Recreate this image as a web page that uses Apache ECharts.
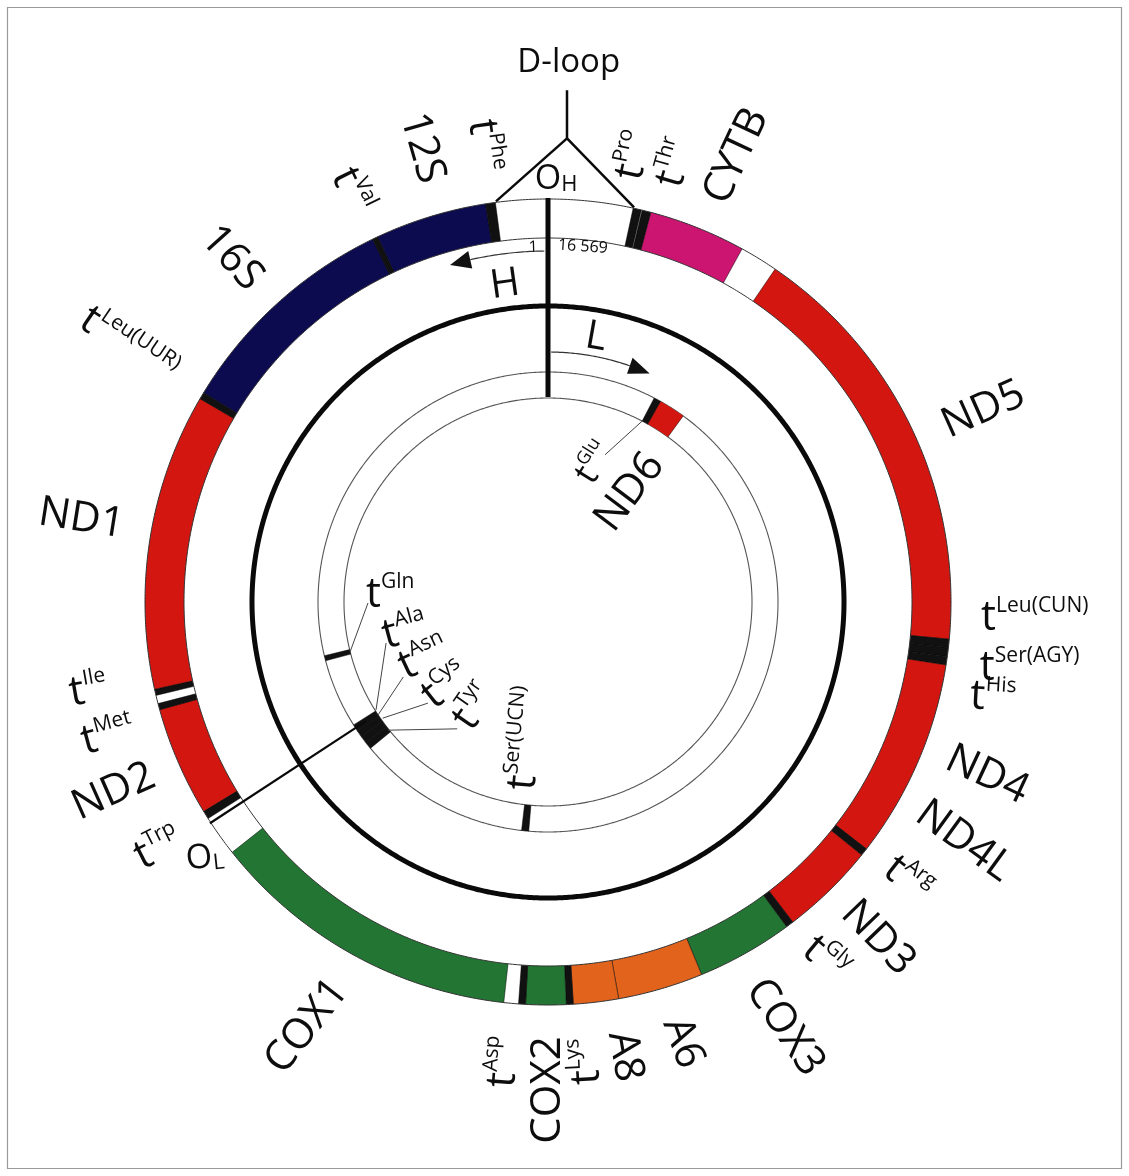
<!DOCTYPE html>
<html><head><meta charset="utf-8">
<script src="https://cdn.jsdelivr.net/npm/echarts@6/dist/echarts.min.js"></script>
<style>html,body{margin:0;padding:0;background:#fff}#c{width:1129px;height:1176px}</style>
</head><body><div id="c"></div>
<script>
// ---------- DATA (angles in degrees, clockwise from the origin line at top) ----------
// outer band genes: [name, startAngle, endAngle, kind]
const outerGenes = [
  ['tPro', 12.2, 13.4, 'trna'],
  ['tThr', 13.5, 14.8, 'trna'],
  ['CYTB', 14.8, 28.8, 'cytb'],
  ['ND5', 34.3, 95.3, 'nd'],
  ['tLeu(CUN)', 95.3, 96.5, 'trna'],
  ['tSer(AGY)', 96.5, 97.8, 'trna'],
  ['tHis', 97.8, 99.0, 'trna'],
  ['ND4', 99.0, 119.3, 'nd'],
  ['ND4L', 119.0, 127.8, 'nd'],
  ['tArg', 127.8, 128.9, 'trna'],
  ['ND3', 128.9, 142.6, 'nd'],
  ['tGly', 142.6, 143.7, 'trna'],
  ['COX3', 143.7, 157.6, 'cox'],
  ['A6', 157.6, 169.9, 'atp'],
  ['A8', 169.9, 176.4, 'atp'],
  ['tLys', 176.4, 177.4, 'trna'],
  ['COX2', 177.4, 183.2, 'cox'],
  ['tAsp', 183.2, 184.2, 'trna'],
  ['COX1', 186.3, 231.6, 'cox'],
  ['tTrp', 237.5, 238.7, 'trna'],
  ['ND2', 238.7, 254.5, 'nd'],
  ['tMet', 254.5, 255.4, 'trna'],
  ['tIle', 256.6, 257.5, 'trna'],
  ['ND1', 257.5, 300.3, 'nd'],
  ['tLeu(UUR)', 300.3, 301.3, 'trna'],
  ['16S', 301.3, 334.2, 'rrna'],
  ['tVal', 334.2, 335.0, 'trna'],
  ['12S', 335.0, 351.1, 'rrna'],
  ['tPhe', 351.1, 352.5, 'trna']
];
// inner band genes (other strand)
const innerGenes = [
  ['tGlu', 27.5, 29.3, 'trna'],
  ['ND6', 29.3, 36.0, 'nd'],
  ['tSer(UCN)', 184.8, 186.6, 'trna'],
  ['tTyr', 230.5, 232.3, 'trna'],
  ['tCys', 232.3, 234.1, 'trna'],
  ['tAsn', 234.1, 235.9, 'trna'],
  ['tAla', 235.9, 237.7, 'trna'],
  ['tGln', 255.2, 256.5, 'trna']
];
const genomeEnds = ['1', '16 569'];

// ---------- LAYOUT / STYLE ----------
const CENTER = [548, 602];
const R_MAX = 403;
const BAND_OUT = [364, 403];
const BAND_IN = [204, 230];
const STRAND_CIRCLE = 296;
const kindColor = { rrna: '#0c0b50', nd: '#d3160f', cytb: '#cc1471', cox: '#227532', atp: '#e2631c', trna: '#111111' };

// connector lines: points as [radius, angle], width
const connectors = [
  [[[464, 2.35], [512, 2.13]], 2.5],
  [[[404, 352.6], [464, 2.35]], 2.5],
  [[[464, 2.35], [404, 12.3]], 2.5],
  [[[205, 0], [404, 0]], 5],
  [[[218, 236.8], [404, 236.8]], 2.2],
  [[[204, 255.9], [180, 269.7]], 1],
  [[[203, 237.9], [167, 255.8]], 1],
  [[[204, 236.4], [163, 242.6]], 1],
  [[[202, 234.9], [157, 229.9]], 1],
  [[[205, 231.3], [156, 215.6]], 1],
  [[[205, 27.6], [158, 21.2]], 1]
];
// strand arrows: radius, fromAngle, baseAngle, tipAngle, half width
const arrows = [
  [351, 359.4, 347.2, 343.8, 9],
  [250, 0.7, 19.1, 24.0, 8.5]
];
// labels: main, sup/sub, radius, angle, rotation (deg, clockwise), style
const labelLayout = [
  ['D-loop', '', 540, 2.2, 0, 'title'],
  ['O', 'H', 425, 1.1, 0, 'origin'],
  ['t', 'Phe', 461, 352.2, 82, 'trna'],
  ['12S', '', 471, 344.5, 74, 'gene'],
  ['t', 'Val', 456, 334.6, 64, 'trna'],
  ['16S', '', 467, 317.4, 48, 'gene'],
  ['t', 'Leu(UUR)', 492, 301.5, 34, 'trna'],
  ['ND1', '', 474, 280.1, 9, 'gene'],
  ['t', 'Ile', 468, 259.2, -10, 'trna'],
  ['t', 'Met', 460, 253.2, -15, 'trna'],
  ['ND2', '', 474, 246.4, -24, 'gene'],
  ['t', 'Trp', 461, 237.8, -27, 'trna'],
  ['O', 'L', 427, 233.5, -6, 'origin'],
  ['COX1', '', 488, 209.6, -52, 'gene'],
  ['t', 'Asp', 462, 185.6, -86, 'trna'],
  ['COX2', '', 488, 180, -90, 'gene'],
  ['t', 'Lys', 461, 175.4, -93, 'trna'],
  ['A8', '', 461, 170.4, 80, 'gene'],
  ['A6', '', 461, 163.0, 70, 'gene'],
  ['COX3', '', 487, 150.9, 56, 'gene'],
  ['t', 'Gly', 452, 142.0, 40, 'trna'],
  ['ND3', '', 471, 135.5, 46, 'gene'],
  ['t', 'Arg', 454, 127.5, 38, 'trna'],
  ['ND4L', '', 480, 119.9, 36, 'gene'],
  ['ND4', '', 472, 111.5, 25, 'gene'],
  ['t', 'His', 455, 102.0, 3, 'trna'],
  ['t', 'Ser(AGY)', 486, 97.7, 0, 'trna'],
  ['t', 'Leu(CUN)', 487, 91.8, 0, 'trna'],
  ['ND5', '', 476, 66.2, -24, 'gene'],
  ['CYTB', '', 484, 22.9, -65, 'gene'],
  ['t', 'Thr', 457, 16.1, -74, 'trna'],
  ['t', 'Pro', 455, 10.8, -78, 'trna'],
  ['H', '', 320, 352.3, -8, 'strand'],
  ['L', '', 269, 10.3, 10, 'strand'],
  [genomeEnds[0], '', 355, 357.6, -2, 'coord'],
  [genomeEnds[1], '', 357, 5.6, 4, 'coord'],
  ['ND6', '', 137, 36.7, -53, 'gene'],
  ['t', 'Glu', 147, 18.2, -58, 'trnaSm'],
  ['t', 'Gln', 158, 272.9, 0, 'trna'],
  ['t', 'Ala', 146, 258.9, -15, 'trna'],
  ['t', 'Asn', 136, 246.1, -25, 'trna'],
  ['t', 'Cys', 132, 231.1, -38, 'trna'],
  ['t', 'Tyr', 128, 215.4, -55, 'trna'],
  ['t', 'Ser(UCN)', 138, 189.2, -85, 'trna']
];

const FONT = '"Open Sans", "DejaVu Sans", sans-serif';
const INK = '#0d0d0d';

function arcPts(api, r, a0, a1) {
  const n = Math.max(2, Math.ceil(Math.abs(a1 - a0) / 0.4) + 1);
  const pts = [];
  for (let i = 0; i < n; i++) pts.push(api.coord([r, a0 + (a1 - a0) * i / (n - 1)]));
  return pts;
}
function sectorPts(api, r0, r1, a0, a1) {
  return arcPts(api, r1, a0, a1).concat(arcPts(api, r0, a1, a0));
}
// an edge is drawn unless it falls inside another (overlapping) gene
function insideOther(genes, idx, a) {
  return genes.some((g, j) => j !== idx && g[1] < a - 1e-6 && g[2] > a + 1e-6);
}
function bandSeries(genes, band) {
  return {
    type: 'custom', coordinateSystem: 'polar', silent: true,
    data: genes.map(g => [band[1], g[1]]),
    renderItem: function (params, api) {
      const i = params.dataIndex, g = genes[i];
      const children = [{
        type: 'polygon',
        shape: { points: sectorPts(api, band[0], band[1], g[1], g[2]) },
        style: { fill: kindColor[g[3]], stroke: null }
      }];
      [g[1], g[2]].forEach(a => {
        if (!insideOther(genes, i, a)) children.push({
          type: 'line',
          shape: (function () { const p = api.coord([band[0], a]), q = api.coord([band[1], a]); return { x1: p[0], y1: p[1], x2: q[0], y2: q[1] }; })(),
          style: { stroke: 'rgba(0,0,0,0.6)', lineWidth: 0.8 }
        });
      });
      return { type: 'group', children: children };
    }
  };
}
function circleSeries(list) {
  return {
    type: 'custom', coordinateSystem: 'polar', silent: true,
    data: list.map(c => [c[0], 0]),
    renderItem: function (params, api) {
      const c = list[params.dataIndex];
      return {
        type: 'polygon',
        shape: { points: arcPts(api, c[0], 0, 360) },
        style: { fill: 'none', stroke: c[2], lineWidth: c[1] }
      };
    }
  };
}
function labelStyle(L) {
  const main = L[0], sup = L[1], kind = L[5];
  const base = { fontFamily: FONT, fill: INK };
  if (kind === 'gene') return { text: main, fontSize: 42 };
  if (kind === 'title') return { text: main, fontSize: 33 };
  if (kind === 'strand') return { text: main, fontSize: 40 };
  if (kind === 'coord') return { text: main, fontSize: 16 };
  if (kind === 'origin') return {
    text: '{o|' + main + '}{s|' + sup + '}',
    rich: { o: Object.assign({ fontSize: 34, lineHeight: 38, verticalAlign: 'bottom' }, base),
            s: Object.assign({ fontSize: 22, lineHeight: 26, verticalAlign: 'bottom' }, base) }
  };
  const big = kind === 'trnaSm' ? 36 : 42, small = kind === 'trnaSm' ? 18 : 21;
  return {
    text: '{t|' + main + '}{s|' + sup + '}',
    rich: { t: Object.assign({ fontSize: big, lineHeight: big + 2, verticalAlign: 'bottom' }, base),
            s: Object.assign({ fontSize: small, lineHeight: Math.round(small * 1.33), verticalAlign: 'top' }, base) }
  };
}

const chart = echarts.init(document.getElementById('c'), null, { renderer: 'canvas' });
chart.setOption({
  animation: false,
  backgroundColor: '#ffffff',
  polar: { center: CENTER, radius: R_MAX },
  angleAxis: { type: 'value', min: 0, max: 360, startAngle: 90, clockwise: true,
    axisLine: { show: false }, axisTick: { show: false }, axisLabel: { show: false }, splitLine: { show: false } },
  radiusAxis: { type: 'value', min: 0, max: R_MAX,
    axisLine: { show: false }, axisTick: { show: false }, axisLabel: { show: false }, splitLine: { show: false } },
  graphic: [{ type: 'rect', shape: { x: 7.5, y: 7.5, width: 1114, height: 1161 },
    style: { fill: 'none', stroke: '#9a9a9a', lineWidth: 1.2 }, silent: true }],
  series: [
    bandSeries(outerGenes, BAND_OUT),
    circleSeries([[BAND_OUT[0], 1, '#333'], [BAND_OUT[1], 1, '#333'], [STRAND_CIRCLE, 5, '#0a0a0a'],
                  [BAND_IN[0], 1.1, '#555'], [BAND_IN[1], 1.1, '#555']]),
    bandSeries(innerGenes, BAND_IN),
    {
      type: 'custom', coordinateSystem: 'polar', silent: true,
      data: connectors.map(c => c[0][0]),
      renderItem: function (params, api) {
        const c = connectors[params.dataIndex];
        return { type: 'polyline', shape: { points: c[0].map(p => api.coord(p)) },
          style: { stroke: c[1] >= 2 ? '#0a0a0a' : '#444', lineWidth: c[1], fill: 'none' } };
      }
    },
    {
      type: 'custom', coordinateSystem: 'polar', silent: true,
      data: arrows.map(a => [a[0], a[1]]),
      renderItem: function (params, api) {
        const a = arrows[params.dataIndex];
        return { type: 'group', children: [
          { type: 'polyline', shape: { points: arcPts(api, a[0], a[1], a[2]) },
            style: { stroke: '#333', lineWidth: 1.2, fill: 'none' } },
          { type: 'polygon', shape: { points: [api.coord([a[0], a[3]]), api.coord([a[0] - a[4], a[2]]), api.coord([a[0] + a[4], a[2]])] },
            style: { fill: '#111' } }
        ] };
      }
    },
    {
      type: 'custom', coordinateSystem: 'polar', silent: true,
      data: labelLayout.map(L => [L[2], L[3]]),
      renderItem: function (params, api) {
        const L = labelLayout[params.dataIndex];
        const p = api.coord([L[2], L[3]]);
        const st = labelStyle(L);
        return { type: 'text', x: p[0], y: p[1], rotation: -L[4] * Math.PI / 180,
          style: Object.assign({ fontFamily: FONT, fill: INK, align: 'center', verticalAlign: 'middle' }, st) };
      }
    }
  ]
});
</script></body></html>
